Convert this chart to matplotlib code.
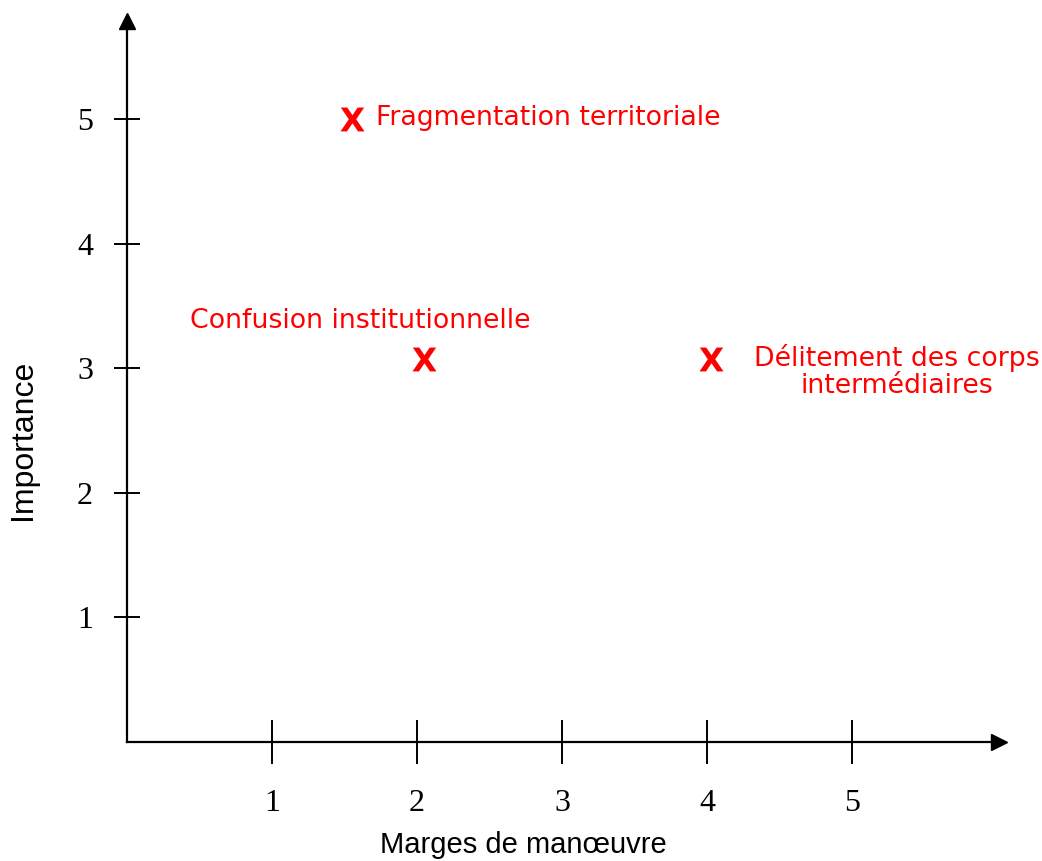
import matplotlib.pyplot as plt
from matplotlib.textpath import TextPath
from matplotlib.font_manager import FontProperties
from matplotlib.path import Path

# Chart values
x_ticks = [1, 2, 3, 4, 5]
y_ticks = [1, 2, 3, 4, 5]
marges = [1.55, 2.05, 4.03]
importance = [5.0, 3.07, 3.07]
labels = ["Fragmentation territoriale",
          "Confusion institutionnelle",
          "Délitement des corps\nintermédiaires"]
label_x = [1.72, 1.61, 5.31]
label_y = [5.01, 3.38, 2.97]
label_ha = ["left", "center", "center"]

RED = "#ff0000"


def x_marker():
    """Bold 'X' glyph turned into a centred marker path."""
    tp = TextPath((0, 0), "X", prop=FontProperties(family="DejaVu Sans", weight="bold"))
    verts = tp.vertices.copy()
    ext = tp.get_extents()
    verts[:, 0] -= (ext.x0 + ext.x1) / 2
    verts[:, 1] -= (ext.y0 + ext.y1) / 2
    return Path(verts, tp.codes)


fig = plt.figure(figsize=(10.42, 8.61), dpi=100)
W, H = 1042, 861
# origin at pixel (127, 742), arrow heads centred at x=999 and y=21
ax = fig.add_axes([127 / W, (H - 742) / H, (999 - 127) / W, (742 - 21) / H])
ax.set_xlim(0, (999 - 127) / 145)
ax.set_ylim(0, (742 - 21) / 124.6)

for s in ["top", "right"]:
    ax.spines[s].set_visible(False)
for s in ["left", "bottom"]:
    ax.spines[s].set_linewidth(1.6)

ax.set_xticks(x_ticks)
ax.set_yticks(y_ticks)
ax.tick_params(axis="x", direction="inout", length=32, width=1.4, pad=18,
               labelsize=23, labelfontfamily="Liberation Serif")
ax.tick_params(axis="y", direction="inout", length=19, width=1.4, pad=15,
               labelsize=23, labelfontfamily="Liberation Serif")

# arrow heads
ax.plot(1, 0, ">", color="black", markersize=11, transform=ax.transAxes, clip_on=False)
ax.plot(0, 1, "^", color="black", markersize=11, transform=ax.transAxes, clip_on=False)

ax.set_xlabel("Marges de manœuvre", family="Liberation Sans", fontsize=21)
ax.set_ylabel("Importance", family="Liberation Sans", fontsize=23)
ax.xaxis.set_label_coords(0.454, -0.1234)
ax.yaxis.set_label_coords(-0.102, 0.419)

ax.scatter(marges, importance, marker=x_marker(), s=330, color=RED, linewidths=0)

for lx, ly, txt, ha in zip(label_x, label_y, labels, label_ha):
    ax.text(lx, ly, txt, color=RED, fontsize=19.3, family="DejaVu Sans",
            ha=ha, va="center", linespacing=1.05)

fig.savefig("out.png", dpi=100)
